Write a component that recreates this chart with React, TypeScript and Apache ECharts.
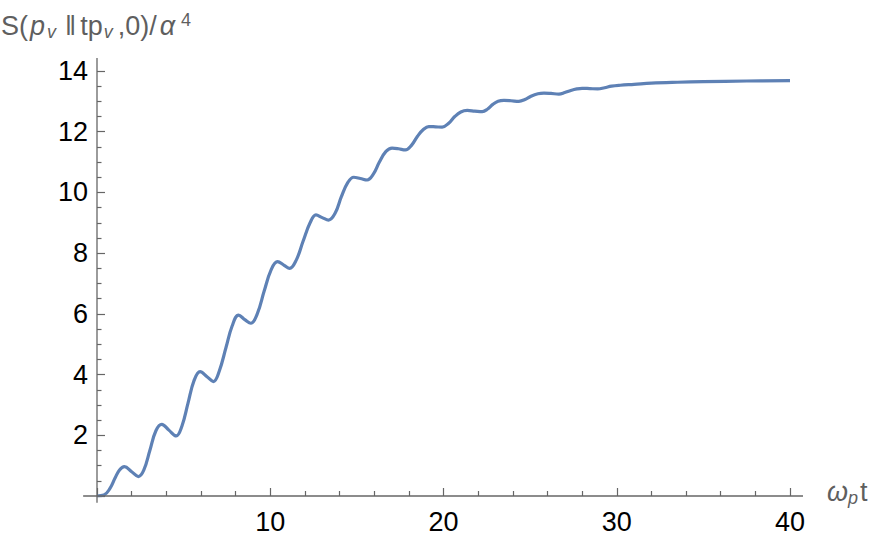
import { useEffect, useRef } from "react";
import * as echarts from "echarts";

// ω_p t values (x) and S/α^4 values (y)
const tValues = [
  0, 0.4, 0.75, 1.05, 1.3, 1.58, 2.0, 2.39,
  2.7, 3.05, 3.4, 3.74, 4.15, 4.57,
  4.9, 5.25, 5.6, 5.95, 6.35, 6.72,
  7.05, 7.45, 7.8, 8.17, 8.55, 8.88,
  9.25, 9.65, 10.05, 10.42, 10.8, 11.12,
  11.5, 11.9, 12.3, 12.64, 13.0, 13.37,
  13.75, 14.1, 14.48, 14.82, 15.2, 15.59,
  15.95, 16.3, 16.68, 17.03, 17.4, 17.8,
  18.15, 18.5, 18.85, 19.15, 19.55, 19.92,
  20.3, 20.65, 21.0, 21.37, 21.8, 22.24,
  22.55, 22.85, 23.15, 23.49, 23.9, 24.35,
  24.7, 25.05, 25.45, 25.8, 26.2, 26.66,
  27.0, 27.35, 27.7, 28.0, 28.45, 28.9,
  29.3, 29.7, 30.2, 31.0, 32.0, 33.5, 35.0, 37.5, 40.0,
];
const sValues = [
  0, 0.03, 0.25, 0.6, 0.86, 0.97, 0.8, 0.64,
  0.85, 1.5, 2.15, 2.36, 2.17, 1.98,
  2.3, 3.05, 3.8, 4.1, 3.93, 3.77,
  4.1, 4.9, 5.6, 5.96, 5.8, 5.69,
  6.0, 6.75, 7.45, 7.72, 7.6, 7.5,
  7.77, 8.4, 9.0, 9.26, 9.17, 9.09,
  9.32, 9.85, 10.33, 10.5, 10.46, 10.41,
  10.6, 11.0, 11.35, 11.46, 11.44, 11.4,
  11.55, 11.85, 12.08, 12.17, 12.16, 12.15,
  12.28, 12.5, 12.65, 12.7, 12.68, 12.66,
  12.75, 12.9, 13.0, 13.03, 13.02, 13.0,
  13.06, 13.17, 13.25, 13.27, 13.26, 13.24,
  13.29, 13.36, 13.41, 13.43, 13.42, 13.41,
  13.45, 13.5, 13.53, 13.56, 13.6, 13.63, 13.65, 13.67, 13.68,
];

const xRange = [0, 40];
const yRange = [0, 14];
const xAxisLineExtent = [-0.8, 40.75];
const yAxisLineExtent = [-0.22, 14.43];

const AXIS_COLOR = "#666666";
const TITLE_COLOR = "#5f5f5f";
const LABEL_FONT = "'Liberation Sans', Arial, Helvetica, sans-serif";

export default function App() {
  const ref = useRef<HTMLDivElement>(null);

  useEffect(() => {
    if (!ref.current) return;
    const chart = echarts.init(ref.current, undefined, { renderer: "svg" });
    const data = tValues.map((t, i) => [t, sValues[i]]);

    chart.setOption({
      animation: false,
      backgroundColor: "#ffffff",
      grid: {
        left: 97,
        right: 82,
        top: 71,
        bottom: 49,
        outerBoundsMode: "none",
      },
      xAxis: {
        type: "value",
        min: xRange[0],
        max: xRange[1],
        interval: 10,
        axisLine: { show: false },
        splitLine: { show: false },
        axisTick: {
          show: true,
          inside: true,
          length: 8,
          lineStyle: { color: AXIS_COLOR, width: 1.2 },
        },
        minorTick: {
          show: true,
          splitNumber: 5,
          length: 5,
          lineStyle: { color: AXIS_COLOR, width: 1.2 },
        },
        axisLabel: {
          showMinLabel: false,
          margin: 12,
          color: "#000000",
          fontSize: 27,
          fontFamily: LABEL_FONT,
        },
      },
      yAxis: {
        type: "value",
        min: yRange[0],
        max: yRange[1],
        interval: 2,
        axisLine: { show: false },
        splitLine: { show: false },
        axisTick: {
          show: true,
          inside: true,
          length: 8,
          lineStyle: { color: AXIS_COLOR, width: 1.2 },
        },
        minorTick: {
          show: true,
          splitNumber: 4,
          length: 4.5,
          lineStyle: { color: AXIS_COLOR, width: 1.2 },
        },
        axisLabel: {
          showMinLabel: false,
          margin: 9,
          color: "#000000",
          fontSize: 27,
          fontFamily: LABEL_FONT,
        },
      },
      series: [
        {
          type: "line",
          data,
          smooth: 0.4,
          showSymbol: false,
          lineStyle: { color: "#5E81B5", width: 3.2 },
          z: 3,
        },
      ],
    });

    const px = (v: number[]) => chart.convertToPixel({ gridIndex: 0 }, v) as number[];
    const xa = px([xAxisLineExtent[0], 0]);
    const xb = px([xAxisLineExtent[1], 0]);
    const ya = px([0, yAxisLineExtent[0]]);
    const yb = px([0, yAxisLineExtent[1]]);

    const main = { fontSize: 27, lineHeight: 30, verticalAlign: "middle", fill: TITLE_COLOR, fontFamily: LABEL_FONT };
    const ital = { ...main, fontStyle: "italic" };
    const sub = { fontSize: 18, lineHeight: 16, verticalAlign: "bottom", fill: TITLE_COLOR, fontStyle: "italic", fontFamily: LABEL_FONT };
    const sup = { fontSize: 18, lineHeight: 17, verticalAlign: "top", fill: TITLE_COLOR, fontFamily: LABEL_FONT };

    chart.setOption({
      graphic: [
        {
          type: "line",
          shape: { x1: xa[0], y1: xa[1], x2: xb[0], y2: xb[1] },
          style: { stroke: AXIS_COLOR, lineWidth: 1.3 },
          z: 10,
        },
        {
          type: "line",
          shape: { x1: ya[0], y1: ya[1], x2: yb[0], y2: yb[1] },
          style: { stroke: AXIS_COLOR, lineWidth: 1.3 },
          z: 10,
        },
        {
          type: "text",
          left: 1,
          top: 11,
          style: {
            text: "{a|S(}{p|p}{subA|v}{bar|‖}{a|tp}{subB|v}{c|,0)/}{al|α}{sup|4}",
            rich: {
              a: main,
              p: { ...ital, padding: [0, 1, 0, 2] },
              subA: { ...sub, padding: [0, 9, 0, 1] },
              bar: { ...main, padding: [0, 4, 0, 0] },
              subB: { ...sub, padding: [0, 5, 0, 1] },
              c: { ...main },
              al: { ...ital, padding: [0, 2, 0, 3] },
              sup: { ...sup, padding: [0, 0, 0, 4] },
            },
          },
        },
        {
          type: "text",
          left: xb[0] + 24,
          top: xb[1] - 18,
          style: {
            text: "{i|ω}{sub|p}{a|t}",
            rich: { a: main, i: ital, sub: { ...sub, padding: [0, 2, 0, 0] } },
          },
        },
      ],
    });

    return () => chart.dispose();
  }, []);

  return (
    <div
      ref={ref}
      style={{ position: "fixed", left: 0, top: 0, width: 872, height: 545, background: "#fff" }}
    />
  );
}
